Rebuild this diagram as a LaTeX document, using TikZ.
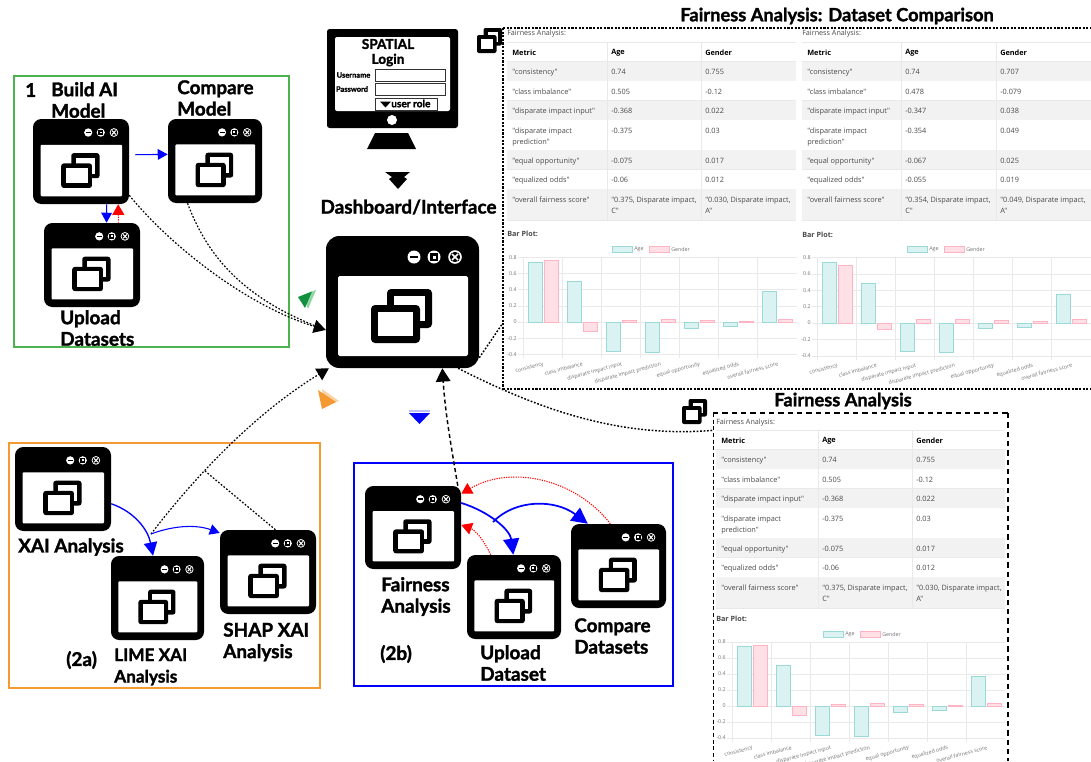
\documentclass[tikz,border=0pt]{standalone}
\usepackage{fontspec}
\setmainfont{Lato}[BoldFeatures={FakeBold=1.6}]
\newfontfamily\cellfont{Open Sans}
\usetikzlibrary{arrows.meta}

\definecolor{boxgreen}{HTML}{4CB34F}
\definecolor{boxorange}{HTML}{F59A32}
\definecolor{tablegrey}{HTML}{F2F2F2}
\definecolor{gridgrey}{HTML}{E9E9E9}
\definecolor{cellink}{HTML}{4A4A4A}
\definecolor{agefill}{HTML}{DBF2F2}
\definecolor{ageline}{HTML}{9BD9D9}
\definecolor{genderfill}{HTML}{FFE0E6}
\definecolor{genderline}{HTML}{FFB3C3}
\definecolor{triangreen}{HTML}{12903F}
\definecolor{trianpale}{HTML}{8FD6A2}

\tikzset{
    winbase/.style={fill=black, inner sep=0pt},
    boxlabel/.style={font=\bfseries\fontsize{14.2}{16.1}\selectfont, align=left, anchor=west, inner sep=0pt},
    smalllabel/.style={font=\bfseries\fontsize{12.9}{16.1}\selectfont, align=left, anchor=west, inner sep=0pt},
    bigtitle/.style={font=\bfseries\fontsize{13.7}{16}\selectfont, inner sep=0pt},
    groupbox/.style={draw, line width=1.5pt},
    panelarea/.style={inner sep=0pt},
    celltxt/.style={font=\cellfont\fontsize{5.5}{8.6}\selectfont, text=cellink, align=left, anchor=north west, inner sep=0pt},
    headtxt/.style={font=\cellfont\bfseries\fontsize{5.5}{8.6}\selectfont, text=black, anchor=west, inner sep=0pt},
    capttxt/.style={font=\cellfont\fontsize{5.4}{7}\selectfont, text=cellink, anchor=west, inner sep=0pt},
    plottxt/.style={font=\cellfont\bfseries\fontsize{5.4}{7}\selectfont, text=cellink, anchor=west, inner sep=0pt},
    ticktxt/.style={font=\cellfont\fontsize{4}{5}\selectfont, text=black!55, inner sep=0pt},
    agebar/.style={fill=agefill, draw=ageline, line width=.7pt},
    genderbar/.style={fill=genderfill, draw=genderline, line width=.7pt},
    fieldbox/.style={draw=black!80, fill=white, line width=.6pt, inner sep=0pt},
    loginlabel/.style={font=\bfseries\fontsize{5.6}{7}\selectfont, inner sep=0pt},
    bluearr/.style={blue, line width=.8pt, -{Triangle[length=7.5pt,width=8pt]}},
    blueheavy/.style={blue, line width=1.3pt, -{Triangle[length=12pt,width=12pt]}},
    redarr/.style={red, line width=.8pt, dash pattern=on .9pt off .9pt, -{Triangle[length=8pt,width=9pt]}},
    blackarr/.style={black, line width=.9pt, dash pattern=on 1.3pt off 1.3pt, -{Triangle[length=9pt,width=10pt]}},
    blackdash/.style={black, line width=1.1pt, dash pattern=on 3pt off 2.2pt, -{Triangle[length=10pt,width=11pt]}},
    blackline/.style={black, line width=.9pt, dash pattern=on 1.3pt off 1.3pt},
    paneldots/.style={black, line width=1.7pt, dash pattern=on 1.6pt off 1.1pt},
    paneldash/.style={black, line width=1.5pt, dash pattern=on 4pt off 3pt}
}

\newcommand{\appwin}[5]{%
    \pgfmathsetmacro\winW{#4-#2}%
    \pgfmathsetmacro\winH{#5-#3}%
    \pgfmathsetmacro\winS{\winW/153}%
    \pgfmathsetlengthmacro\winWpt{\winW*.75}%
    \pgfmathsetlengthmacro\winHpt{\winH*.75}%
    \pgfmathsetlengthmacro\winR{\winS*10}%
    \pgfmathsetlengthmacro\winQ{\winS*1.2}%
    \pgfmathsetlengthmacro\winT{\winS*3}%
    \pgfmathsetlengthmacro\winL{\winS*1.3}%
    \node[winbase, minimum width=\winWpt, minimum height=\winHpt, rounded corners=\winR] (#1) at ({(#2+#4)/2},{(#3+#5)/2}) {};
    \begin{scope}[shift={(#2,#3)}, xscale=\winS, yscale={\winH/132}]
        \fill[white, rounded corners=\winQ] (12,40) rectangle (142,120);
        \fill[white] (88,21) circle (6.5);
        \fill[black] (84,19.7) rectangle (92,22.3);
        \fill[white] (108,21) circle (6.5);
        \fill[black] (104,17) rectangle (112,25);
        \fill[white] (106.5,19.5) rectangle (109.5,22.5);
        \fill[white] (129,21) circle (6.8);
        \fill[black] (129,21) circle (5.2);
        \draw[white, line width=\winL] (126,18) -- (132,24);
        \draw[white, line width=\winL] (126,24) -- (132,18);
        \fill[black, rounded corners=\winT] (61,53) rectangle (106,92);
        \fill[white] (68,60) rectangle (99,85);
        \fill[black, rounded corners=\winT] (45,69) rectangle (94,107);
        \fill[white] (52,76) rectangle (87,100);
    \end{scope}
}

\newcommand{\stackicon}[2]{%
    \begin{scope}[shift={(#1,#2)}]
        \fill[black, rounded corners=1.5pt] (6.5,0) rectangle (25,17.5);
        \fill[white] (10.5,4) rectangle (21,13.5);
        \fill[black, rounded corners=1.5pt] (0,7) rectangle (19.5,25);
        \fill[white] (4,11) rectangle (15.5,21);
    \end{scope}
}

\newcommand{\fairtable}[6]{%
    \begin{scope}[shift={(#2,#3)}]
        \node[headtxt] (#1hm) at (5,11) {Metric};
        \node[headtxt] (#1ha) at (#5,11) {Age};
        \node[headtxt] (#1hg) at (#6,11) {Gender};
        \foreach \rw/\ta/\tb/\tc/\mt/\ag/\gn in #4 {
            \fill[\tc] (0,\ta) rectangle (289,\tb);
            \draw[gridgrey, line width=.4pt] (0,\tb) -- (289,\tb);
            \node[celltxt] (#1m\rw) at (5,\ta+7.5) {\mt};
            \node[celltxt] (#1a\rw) at (#5,\ta+7.5) {\ag};
            \node[celltxt] (#1g\rw) at (#6,\ta+7.5) {\gn};
        }
        \draw[gridgrey, line width=.4pt] (0,0) -- (289,0);
        \draw[gridgrey, line width=.4pt] (0,19.3) -- (289,19.3);
        \draw[gridgrey, line width=.4pt] (#5-4,0) -- (#5-4,178);
        \draw[gridgrey, line width=.4pt] (#6-4,0) -- (#6-4,178);
    \end{scope}
}

\newcommand{\fairchart}[7]{%
    \foreach \vl/\tx [count=\k] in {0.8/0.8,0.6/0.6,0.4/0.4,0.2/0.2,0/0,-0.2/-0.2,-0.4/-0.4} {
        \draw[gridgrey, line width=.4pt] (#2-5,{#3-\vl*#4}) -- (#5,{#3-\vl*#4});
        \node[ticktxt, anchor=east] (#1y\k) at (#2-6,{#3-\vl*#4}) {\tx};
    }
    \foreach \i in {0,...,6} {
        \draw[gridgrey, line width=.4pt] ({#2+\i*39.1},{#3-.8*#4}) -- ({#2+\i*39.1},{#3+.4*#4+4});
    }
    \fill[agefill] (#6,#3-.8*#4-11) rectangle (#6+20,#3-.8*#4-5);
    \draw[ageline, line width=.6pt] (#6,#3-.8*#4-11) rectangle (#6+20,#3-.8*#4-5);
    \node[ticktxt, anchor=west] (#1la) at (#6+22,#3-.8*#4-8) {Age};
    \fill[genderfill] (#6+37,#3-.8*#4-11) rectangle (#6+57,#3-.8*#4-5);
    \draw[genderline, line width=.6pt] (#6+37,#3-.8*#4-11) rectangle (#6+57,#3-.8*#4-5);
    \node[ticktxt, anchor=west] (#1lg) at (#6+59,#3-.8*#4-8) {Gender};
    \foreach \i/\lb/\ag/\gn in #7 {
        \filldraw[agebar] ({#2+\i*39.1+5},#3) rectangle ({#2+\i*39.1+19},{#3-\ag*#4});
        \filldraw[genderbar] ({#2+\i*39.1+21},#3) rectangle ({#2+\i*39.1+35},{#3-\gn*#4});
        \node[ticktxt, anchor=north east, rotate=15] (#1x\i) at ({#2+\i*39.1+20},{#3+.4*#4+7}) {\lb};
    }
}

\def\rowsfirst{1/19.3/39/tablegrey/{"consistency"}/0.74/0.755,
    2/39/58.5/white/{"class imbalance"}/0.505/-0.12,
    3/58.5/78/tablegrey/{"disparate impact input"}/-0.368/0.022,
    4/78/108/white/{"disparate impact\\prediction"}/-0.375/0.03,
    5/108/127.5/tablegrey/{"equal opportunity"}/-0.075/0.017,
    6/127.5/147/white/{"equalized odds"}/-0.06/0.012,
    7/147/178/tablegrey/{"overall fairness score"}/{"0.375, Disparate impact,\\C"}/{"0.030, Disparate impact,\\A"}}

\def\rowssecond{1/19.3/39/tablegrey/{"consistency"}/0.74/0.707,
    2/39/58.5/white/{"class imbalance"}/0.478/-0.079,
    3/58.5/78/tablegrey/{"disparate impact input"}/-0.347/0.038,
    4/78/108/white/{"disparate impact\\prediction"}/-0.354/0.049,
    5/108/127.5/tablegrey/{"equal opportunity"}/-0.067/0.025,
    6/127.5/147/white/{"equalized odds"}/-0.055/0.019,
    7/147/178/tablegrey/{"overall fairness score"}/{"0.354, Disparate impact,\\C"}/{"0.049, Disparate impact,\\A"}}

\def\barsfirst{0/consistency/0.74/0.755,1/class imbalance/0.505/-0.12,2/disparate impact input/-0.368/0.022,3/disparate impact prediction/-0.375/0.03,4/equal opportunity/-0.075/0.017,5/equalized odds/-0.06/0.012,6/overall fairness score/0.375/0.03}

\def\barssecond{0/consistency/0.74/0.707,1/class imbalance/0.478/-0.079,2/disparate impact input/-0.347/0.038,3/disparate impact prediction/-0.354/0.049,4/equal opportunity/-0.067/0.025,5/equalized odds/-0.055/0.019,6/overall fairness score/0.354/0.049}

\begin{document}
\begin{tikzpicture}[x=.75pt,y=-.75pt]
    \useasboundingbox (0,0) rectangle (1091,761);
    \clip (0,0) rectangle (1091,761);
    \fill[white] (0,0) rectangle (1091,761);

    \node[groupbox, draw=boxgreen, minimum width=206.25pt, minimum height=203.25pt] (aibox) at (151.5,211.5) {};
    \node[groupbox, draw=boxorange, minimum width=233.25pt, minimum height=183.75pt] (xaibox) at (164.5,565.5) {};
    \node[groupbox, draw=blue, minimum width=239.25pt, minimum height=167.25pt] (fairbox) at (513.5,574.5) {};

    \appwin{build}{33}{119}{129}{204}
    \appwin{cmpmodel}{168}{119}{262}{203}
    \appwin{upload}{44}{223}{140}{307}
    \appwin{xai}{15}{447}{111}{531}
    \appwin{lime}{111}{556}{204}{640}
    \appwin{shap}{220}{530}{316}{614}
    \appwin{fair}{365}{486}{461}{569}
    \appwin{updata}{467}{555}{561}{639}
    \appwin{cmpdata}{571}{524}{666}{608}
    \appwin{dash}{326}{236}{479}{368}

    \node[boxlabel] (step1) at (25,90) {1};
    \node[boxlabel] (buildlbl) at (51,100) {Build AI\\Model};
    \node[boxlabel] (cmplbl) at (177,98) {Compare\\Model};
    \node[boxlabel] (uplbl) at (60,328) {Upload\\Datasets};
    \node[boxlabel] (xailbl) at (18,547) {XAI Analysis};
    \node[smalllabel] (limelbl) at (114,667) {LIME XAI\\Analysis};
    \node[boxlabel] (shaplbl) at (223,642) {SHAP XAI\\Analysis};
    \node[boxlabel] (twoa) at (66,660) {(2a)};
    \node[boxlabel] (fairlbl) at (381,596.5) {Fairness\\Analysis};
    \node[boxlabel] (updatalbl) at (480,663) {Upload\\Dataset};
    \node[boxlabel] (cmpdatalbl) at (574,636) {Compare\\Datasets};
    \node[boxlabel] (twob) at (380,654) {(2b)};

    \node[winbase, minimum width=98.25pt, minimum height=74.25pt, rounded corners=2pt] (monitor) at (392.5,78.5) {};
    \fill[white, rounded corners=1.5pt] (335,37) rectangle (450,111);
    \fill[white] (392,120) circle (5);
    \fill[black] (375,133) -- (408,133) -- (416,149) -- (367,149) -- cycle;
    \node[bigtitle, font=\bfseries\fontsize{10.2}{12}\selectfont] (spatial) at (388,44) {SPATIAL};
    \node[bigtitle, font=\bfseries\fontsize{10.2}{12}\selectfont] (login) at (388,60) {Login};
    \node[loginlabel] (username) at (353.5,75) {Username};
    \node[loginlabel] (password) at (352,89) {Password};
    \node[fieldbox, minimum width=52.5pt, minimum height=9pt] (userfield) at (410,75) {};
    \node[fieldbox, minimum width=52.5pt, minimum height=9pt] (passfield) at (410,89) {};
    \node[fieldbox, minimum width=47pt, minimum height=9pt] (rolefield) at (406.3,104) {};
    \fill[black] (380,101.5) -- (391,101.5) -- (385.5,107.5) -- cycle;
    \node[loginlabel, font=\bfseries\fontsize{7.6}{9}\selectfont, anchor=west] (rolelbl) at (391,103.5) {user role};

    \fill[black] (385,172) -- (410,172) -- (404,177) -- (407,179) -- (398,189) -- (389,179) -- (392,177) -- cycle;
    \node[bigtitle, font=\bfseries\fontsize{14.2}{16}\selectfont] (dashlbl) at (408.5,207) {Dashboard/Interface};

    \fill[trianpale] (303,295) -- (316,290) -- (308,309) -- cycle;
    \fill[triangreen] (298,297) -- (312,291.5) -- (305,308) -- cycle;
    \fill[boxorange!45!white] (322,389) -- (339,401) -- (325,406) -- cycle;
    \fill[boxorange] (318,390) -- (336,402) -- (322,409) -- cycle;
    \fill[blue!25!white] (409,410) -- (430,410) -- (430,412) -- (409,412) -- cycle;
    \fill[blue] (409,413) -- (430,413) -- (419.5,424) -- cycle;

    \node[bigtitle] (cmptitle) at (837,16) {Fairness Analysis: Dataset Comparison};
    \node[bigtitle] (singletitle) at (843,401) {Fairness Analysis};

    \node[panelarea, minimum width=447.75pt, minimum height=270.75pt] (cmppanel) at (801.5,208.5) {};
    \node[panelarea, minimum width=221.25pt, minimum height=290.25pt] (singlepanel) at (860.5,606.5) {};

    \stackicon{477}{28}
    \stackicon{682}{399}

    \node[capttxt] (cap1) at (507,34) {Fairness Analysis:};
    \node[capttxt] (cap2) at (802,34) {Fairness Analysis:};
    \node[capttxt] (cap3) at (716,423) {Fairness Analysis:};
    \fairtable{ta}{507}{42}{\rowsfirst}{104}{198}
    \fairtable{tb}{802}{42}{\rowssecond}{103}{198}
    \fairtable{tc}{716}{430}{\rowsfirst}{106}{200}
    \node[plottxt] (plot1) at (507,234) {Bar Plot:};
    \node[plottxt] (plot2) at (802,235) {Bar Plot:};
    \node[plottxt] (plot3) at (716,619) {Bar Plot:};
    \fairchart{ca}{523}{322}{81}{797}{612}{\barsfirst}
    \fairchart{cb}{817}{323}{82}{1091}{907}{\barssecond}
    \fairchart{cc}{732}{706}{80}{1005}{823}{\barsfirst}

    \draw[paneldots] (503,28) -- (1091,28);
    \draw[paneldots] (503,28) -- (503,389);
    \draw[paneldots] (503,389) -- (1091,389);
    \draw[paneldash] (713,413) -- (1008,413);
    \draw[paneldash] (1008,413) -- (1008,761);
    \draw[black, line width=.6pt, dash pattern=on 3pt off 2pt] (713,413) -- (713,761);

    \draw[bluearr] ([xshift=4.5pt]build.8) -- (cmpmodel.172);
    \draw[bluearr] (build.-59.5) -- (upload.71.6);
    \draw[redarr] (upload.58.2) -- (build.-49);
    \draw[blackarr] (build.-35) .. controls (170,245) and (245,305) .. (dash.200.3);
    \draw[blackline] (cmpmodel.-123.7) .. controls (208,258) and (245,300) .. (dash.200.3);

    \coordinate (xaijoin) at (151,534);
    \coordinate (xaimeet) at (205,471);
    \draw[blackarr] (xaijoin) .. controls (200,470) and (260,410) .. (dash.222);
    \draw[blackline] (shap.80.5) -- (xaimeet);
    \draw[bluearr, line width=1pt, -{Triangle[length=10pt,width=10pt]}] (xai.-17) .. controls (135,512) and (148,530) .. (lime.96);
    \draw[bluearr] (xaijoin) .. controls (172,526) and (195,524) .. (shap.141);

    \draw[blackdash] (fair.43.3) .. controls (450,440) and (445,410) .. (dash.-59.5);
    \coordinate (fairjoin) at (493,522);
    \draw[blueheavy] (fair.27) .. controls (490,512) and (510,530) .. (updata.91);
    \draw[blueheavy] (fairjoin) .. controls (515,499) and (555,499) .. (cmpdata.126);
    \draw[redarr] (cmpdata.101) .. controls (575,478) and (510,465) .. (fair.35);
    \draw[redarr] (updata.119.7) .. controls (484,540) and (475,530) .. (fair.3);

    \draw[blackline, line width=1.1pt] (dash.-36.1) -- (cmppanel.201.3);
    \draw[blackline, line width=1.1pt] (dash.-50.4) .. controls (540,410) and (620,438) .. (singlepanel.130.7);
\end{tikzpicture}
\end{document}
